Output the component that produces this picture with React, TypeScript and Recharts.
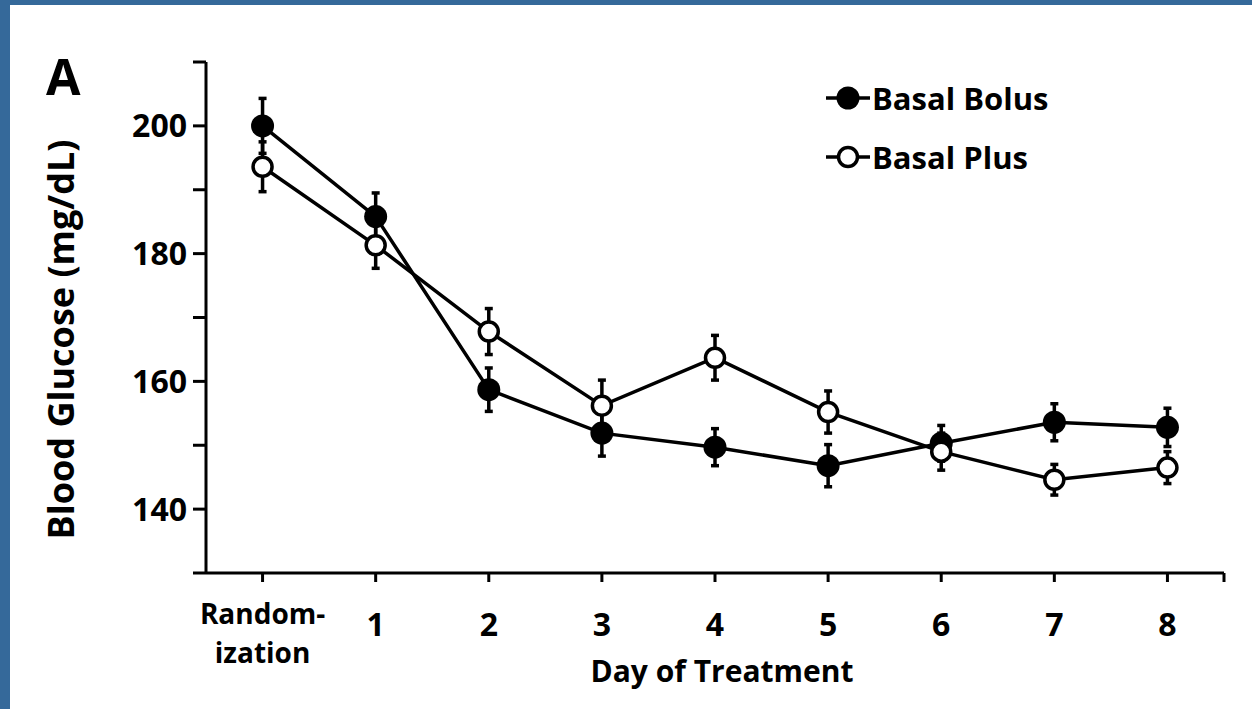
import { LineChart, Line, XAxis, YAxis, ErrorBar } from "recharts";

const FONT = "'Open Sans', Lato, sans-serif";
const FRAME_BLUE = "#35699a";

const days = ["Random-\nization", "1", "2", "3", "4", "5", "6", "7", "8"];
const basalBolus = [200.0, 185.8, 158.7, 151.9, 149.7, 146.8, 150.3, 153.6, 152.8];
const basalBolusSE = [4.3, 3.7, 3.4, 3.6, 2.9, 3.3, 2.8, 2.9, 3.0];
const basalPlus = [193.6, 181.3, 167.8, 156.2, 163.7, 155.2, 149.0, 144.6, 146.5];
const basalPlusSE = [3.9, 3.6, 3.6, 4.0, 3.5, 3.3, 2.9, 2.4, 2.5];
const yTicks = [130, 140, 150, 160, 170, 180, 190, 200, 210];
const yLabelled = [140, 160, 180, 200];

const chartData = days.map((day, i) => ({
  day,
  bolus: basalBolus[i],
  bolusSE: basalBolusSE[i],
  plus: basalPlus[i],
  plusSE: basalPlusSE[i],
}));

const CHART_W = 1252;
const CHART_H = 709;
const Y_AXIS_W = 206;
const MARGIN_RIGHT = 28;
const plotWidth = CHART_W - Y_AXIS_W - MARGIN_RIGHT;
const halfBand = plotWidth / days.length / 2;

function DayTick(props: any) {
  const { x, y, payload, index } = props;
  const lines = String(payload.value).split("\n");
  const isLast = index === days.length - 1;
  return (
    <g>
      {lines.length > 1 ? (
        lines.map((t, i) => (
          <text
            key={t}
            x={x}
            y={y}
            dy={40 + i * 39}
            textAnchor="middle"
            fontFamily={FONT}
            fontWeight={700}
            fontSize={28}
            fill="#000"
          >
            {t}
          </text>
        ))
      ) : (
        <text x={x} y={y} dy={52} textAnchor="middle" fontFamily={FONT} fontWeight={700} fontSize={32} fill="#000">
          {lines[0]}
        </text>
      )}
      {isLast && (
        <line x1={x + halfBand} y1={573} x2={x + halfBand} y2={582} stroke="#000" strokeWidth={3} />
      )}
    </g>
  );
}

function GlucoseTick(props: any) {
  const { x, y, payload } = props;
  if (!yLabelled.includes(payload.value)) return <g />;
  return (
    <text x={x} y={y} dy="0.36em" textAnchor="end" fontFamily={FONT} fontWeight={700} fontSize={32} fill="#000">
      {payload.value}
    </text>
  );
}

function MarkerIcon({ filled }: { filled: boolean }) {
  return (
    <svg width={44} height={26} style={{ display: "block" }}>
      <line x1={0} y1={13} x2={44} y2={13} stroke="#000" strokeWidth={3.5} />
      {filled ? (
        <circle cx={22} cy={13} r={11.5} fill="#000" />
      ) : (
        <circle cx={22} cy={13} r={9.5} fill="#fff" stroke="#000" strokeWidth={3.5} />
      )}
    </svg>
  );
}

function SeriesLegend() {
  const rows = [
    { name: "Basal Bolus", filled: true },
    { name: "Basal Plus", filled: false },
  ];
  return (
    <div
      style={{
        position: "absolute",
        left: 826,
        top: 68,
        fontFamily: FONT,
        fontWeight: 700,
        fontSize: 31,
        color: "#000",
      }}
    >
      {rows.map((r) => (
        <div key={r.name} style={{ display: "flex", alignItems: "center", height: 59 }}>
          <MarkerIcon filled={r.filled} />
          <span style={{ marginLeft: 2 }}>{r.name}</span>
        </div>
      ))}
    </div>
  );
}

export default function App() {
  return (
    <div style={{ position: "relative", width: CHART_W, height: CHART_H, background: FRAME_BLUE, overflow: "hidden" }}>
      <style>{"body{margin:0}"}</style>
      <div style={{ position: "absolute", left: 10, top: 5, right: 0, bottom: 0, background: "#fff" }} />
      <div
        style={{
          position: "absolute",
          left: 46,
          top: 51,
          fontFamily: FONT,
          fontWeight: 700,
          fontSize: 50,
          lineHeight: "50px",
          color: "#000",
        }}
      >
        A
      </div>
      <div style={{ position: "absolute", left: 0, top: 0 }}>
        <LineChart
          width={CHART_W}
          height={CHART_H}
          data={chartData}
          margin={{ top: 62, right: MARGIN_RIGHT, bottom: 0, left: 0 }}
        >
          <XAxis
            dataKey="day"
            height={136}
            interval={0}
            padding={{ left: halfBand, right: halfBand }}
            axisLine={{ stroke: "#000", strokeWidth: 3 }}
            tickLine={{ stroke: "#000", strokeWidth: 3 }}
            tickSize={9}
            tickMargin={2}
            tick={<DayTick />}
            label={{
              value: "Day of Treatment",
              position: "insideBottom",
              offset: 27,
              dx: 7,
              style: { fontFamily: FONT, fontWeight: 700, fontSize: 30, fill: "#000" },
            }}
          />
          <YAxis
            width={Y_AXIS_W}
            domain={[130, 210]}
            ticks={yTicks}
            interval={0}
            axisLine={{ stroke: "#000", strokeWidth: 3 }}
            tickLine={{ stroke: "#000", strokeWidth: 3 }}
            tickSize={13}
            tickMargin={6}
            tick={<GlucoseTick />}
            label={{
              value: "Blood Glucose (mg/dL)",
              position: "insideLeft",
              content: ({ viewBox }: any) => {
                const cx = viewBox.x + 60;
                const cy = viewBox.y + viewBox.height / 2 + 22;
                return (
                  <text
                    x={cx}
                    y={cy}
                    transform={`rotate(-90 ${cx} ${cy})`}
                    textAnchor="middle"
                    dominantBaseline="central"
                    fontFamily={FONT}
                    fontWeight={700}
                    fontSize={36}
                    fill="#000"
                  >
                    Blood Glucose (mg/dL)
                  </text>
                );
              },
            }}
          />
          <Line
            dataKey="bolus"
            name="Basal Bolus"
            stroke="#000"
            strokeWidth={3.5}
            isAnimationActive={false}
            dot={{ r: 11.5, fill: "#000", stroke: "#000", strokeWidth: 0 }}
            activeDot={false}
          >
            <ErrorBar dataKey="bolusSE" direction="y" width={4} strokeWidth={3.5} stroke="#000" />
          </Line>
          <Line
            dataKey="plus"
            name="Basal Plus"
            stroke="#000"
            strokeWidth={3.5}
            isAnimationActive={false}
            dot={{ r: 9.5, fill: "#fff", stroke: "#000", strokeWidth: 3.5 }}
            activeDot={false}
          >
            <ErrorBar dataKey="plusSE" direction="y" width={4} strokeWidth={3.5} stroke="#000" />
          </Line>
        </LineChart>
      </div>
      <SeriesLegend />
    </div>
  );
}
